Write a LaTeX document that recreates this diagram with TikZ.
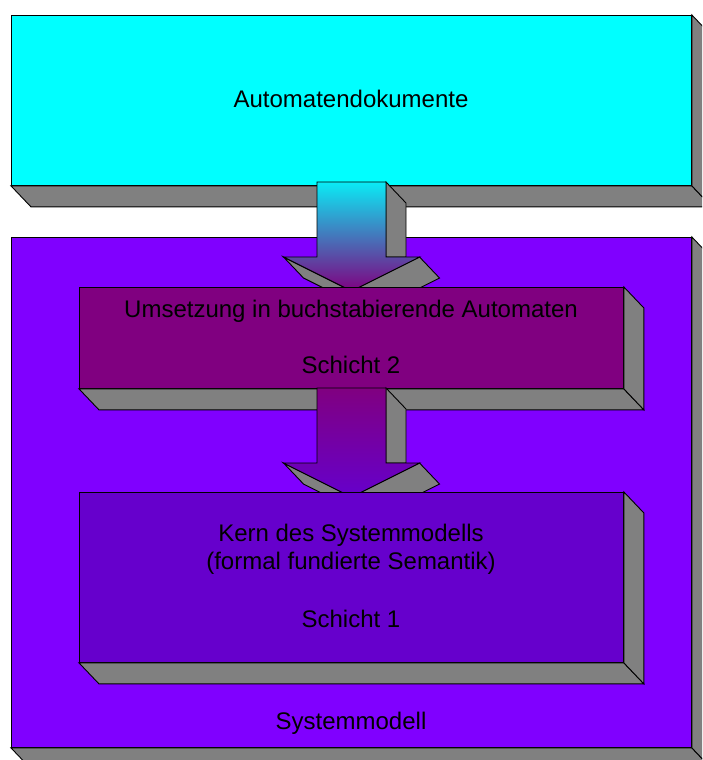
\documentclass[tikz,border=0pt]{standalone}
\usepackage{fontspec}
\setmainfont{Liberation Sans}
\usetikzlibrary{calc}

\definecolor{docaqua}{RGB}{0,255,255}
\definecolor{arrowaqua}{RGB}{10,235,245}
\definecolor{sysviolet}{RGB}{128,0,255}
\definecolor{layertwo}{RGB}{128,0,128}
\definecolor{layerone}{RGB}{102,0,204}
\definecolor{sidegrey}{RGB}{128,128,128}

% front face of a slab; its side faces are added by \slabsides
\tikzset{
  slab/.style={draw=black, line width=0.9pt, inner sep=0pt, anchor=north west},
  sideface/.style={draw=black, line width=0.9pt, fill=sidegrey, line join=miter},
  label/.style={font=\fontsize{24}{28}\selectfont, anchor=base, inner sep=0pt},
}

% side faces (bottom and right) of a slab node, depth (20,21)
\newcommand\slabsides[1]{%
  \filldraw[sideface] (#1.south west) -- (#1.south east)
     -- ($(#1.south east)+(20,21)$) -- ($(#1.south west)+(20,21)$) -- cycle;
  \filldraw[sideface] (#1.north east) -- ($(#1.north east)+(20,21)$)
     -- ($(#1.south east)+(20,21)$) -- (#1.south east) -- cycle;
}

% block arrow hanging from top centre #1, shaded from #2 to #3
\newcommand\flowarrow[3]{%
  \filldraw[sideface] ($(#1)+(34.5,0)$) -- ($(#1)+(54.5,21)$)
     -- ($(#1)+(54.5,75)$) -- ($(#1)+(34.5,75)$) -- cycle;
  \filldraw[sideface] ($(#1)+(68,75)$) -- ($(#1)+(88,96)$)
     -- ($(#1)+(20,130)$) -- ($(#1)+(0,109)$) -- cycle;
  \filldraw[sideface] ($(#1)+(-68,75)$) -- ($(#1)+(-48,96)$)
     -- ($(#1)+(20,130)$) -- ($(#1)+(0,109)$) -- cycle;
  \shade[top color=#2, bottom color=#3]
     ($(#1)+(-34.5,0)$) -- ($(#1)+(34.5,0)$) -- ($(#1)+(34.5,75)$)
     -- ($(#1)+(68,75)$) -- ($(#1)+(0,109)$) -- ($(#1)+(-68,75)$)
     -- ($(#1)+(-34.5,75)$) -- cycle;
  \draw[line width=0.9pt, line join=miter]
     ($(#1)+(-34.5,0)$) -- ($(#1)+(34.5,0)$) -- ($(#1)+(34.5,75)$)
     -- ($(#1)+(68,75)$) -- ($(#1)+(0,109)$) -- ($(#1)+(-68,75)$)
     -- ($(#1)+(-34.5,75)$) -- cycle;
}

\begin{document}
\begin{tikzpicture}[x=1pt, y=-1pt]
\useasboundingbox (0,0) rectangle (702,760);
\clip (0,0) rectangle (702,760);
\fill[white] (0,0) rectangle (702,760);

% outer system model
\node[slab, fill=sysviolet, minimum width=680pt, minimum height=510pt] (sys) at (11,237) {};
\slabsides{sys}

% automaton documents
\node[slab, fill=docaqua, minimum width=680pt, minimum height=170pt] (docs) at (11,15) {};
\slabsides{docs}

% arrow from documents into layer 2
\coordinate (a1) at (351.5,182);
\flowarrow{a1}{arrowaqua}{layertwo}

% layer 2
\node[slab, fill=layertwo, minimum width=544pt, minimum height=101pt] (l2) at (79,287) {};
\slabsides{l2}

% arrow from layer 2 into layer 1
\coordinate (a2) at (351.5,388);
\flowarrow{a2}{layertwo}{layerone}

% layer 1
\node[slab, fill=layerone, minimum width=544pt, minimum height=170pt] (l1) at (79,492) {};
\slabsides{l1}

% texts
\node[label] (tdocs) at (351,107) {Automatendokumente};
\node[label] (tl2a) at (351,317) {Umsetzung in buchstabierende Automaten};
\node[label] (tl2b) at (351,373) {Schicht 2};
\node[label] (tl1a) at (351,541) {Kern des Systemmodells};
\node[label] (tl1b) at (351,569) {(formal fundierte Semantik)};
\node[label] (tl1c) at (351,627) {Schicht 1};
\node[label] (tsys) at (351,729) {Systemmodell};
\end{tikzpicture}
\end{document}
